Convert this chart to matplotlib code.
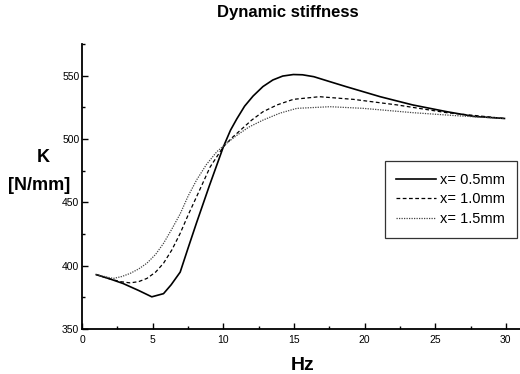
import matplotlib.pyplot as plt
from matplotlib.ticker import MultipleLocator

plt.rcParams['font.family'] = ['Liberation Sans', 'DejaVu Sans']

# frequency (Hz) and dynamic stiffness K (N/mm) for each displacement
hz_05 = [1, 2, 2.9, 4, 4.93, 5.76, 6.3, 6.94, 7.5, 8.1, 9.0, 10.0, 10.5,
         10.95, 11.5, 12.1, 12.8, 13.5, 14.2, 14.95, 15.6, 16.4, 17.5, 18.7,
         21.1, 23.4, 25.8, 27.7, 29.9]
k_05 = [393, 389.5, 386, 380.5, 375.5, 378, 385, 395, 414, 434, 463, 494, 507,
        516, 526, 534, 541.5, 546.7, 549.8, 551, 550.8, 549.3, 545.5, 541.4,
        533.5, 527, 521.7, 518, 516.3]

hz_10 = [1, 2, 2.7, 3.4, 4.0, 4.58, 5.2, 5.76, 6.35, 6.94, 7.5, 8.1, 9.06,
         10.0, 10.6, 11.2, 12.0, 12.8, 13.8, 14.95, 16.8, 19.2, 22.3, 25.8,
         29.9]
k_10 = [393, 389.5, 387.5, 386.5, 387.5, 390, 395, 402, 412.5, 425.6, 440,
        454.5, 478, 494, 501, 507, 515, 521.6, 527, 531.4, 533.5, 531.4, 527,
        520.9, 516.3]

hz_15 = [1, 2.2, 2.8, 3.4, 4.0, 4.58, 5.2, 5.76, 6.35, 6.94, 7.5, 8.1, 8.8,
         9.53, 10.2, 10.95, 11.8, 12.8, 14.0, 15.2, 17.55, 19.9, 23.4, 26.5,
         29.9]
k_15 = [393, 390, 391.5, 394, 397.5, 402, 409, 417.7, 429, 441, 455, 467.7,
        480, 490, 496.5, 503, 509.5, 515, 520.5, 524.3, 525.6, 524.3, 520.9,
        518.5, 516.3]

labels = ['x= 0.5mm', 'x= 1.0mm', 'x= 1.5mm']

fig = plt.figure(figsize=(5.2, 3.74), dpi=100)
ax = fig.add_axes([0.158, 0.120, 0.842, 0.762])

ax.plot(hz_05, k_05, color='black', lw=1.2, ls='-', label=labels[0])
ax.plot(hz_10, k_10, color='black', lw=0.9, ls=(0, (3, 2)), label=labels[1])
ax.plot(hz_15, k_15, color='#444444', lw=0.9, ls=(0, (1, 1)), label=labels[2])

ax.set_xlim(0, 31)
ax.set_ylim(350, 575)
ax.xaxis.set_major_locator(MultipleLocator(5))
ax.xaxis.set_minor_locator(MultipleLocator(2.5))
ax.yaxis.set_major_locator(MultipleLocator(50))
ax.yaxis.set_minor_locator(MultipleLocator(25))
ax.tick_params(which='both', direction='in', labelsize=7.5, width=1)
ax.tick_params(which='major', length=4)
ax.tick_params(which='minor', length=2)
ax.tick_params(axis='x', pad=4)
ax.tick_params(axis='y', pad=2)

for side in ['top', 'right']:
    ax.spines[side].set_visible(False)
for side in ['left', 'bottom']:
    ax.spines[side].set_linewidth(1.3)

fig.text(288 / 520, 1 - 12 / 374, 'Dynamic stiffness', ha='center', va='center',
         fontsize=12, fontweight='bold')
fig.text(43 / 520, 1 - 158 / 374, 'K', ha='center', va='center',
         fontsize=13, fontweight='bold')
fig.text(39 / 520, 1 - 185 / 374, '[N/mm]', ha='center', va='center',
         fontsize=13, fontweight='bold')
fig.text(303 / 520, 1 - 366 / 374, 'Hz', ha='center', va='center',
         fontsize=14, fontweight='bold')

leg = ax.legend(loc='upper right', bbox_to_anchor=(0.993, 0.59), fontsize=10.5,
                frameon=True, fancybox=False, edgecolor='black',
                handlelength=2.74, handletextpad=0.28, labelspacing=0.4,
                borderpad=0.8, borderaxespad=0)
leg.get_frame().set_linewidth(0.9)

fig.savefig('out.png', dpi=100)
